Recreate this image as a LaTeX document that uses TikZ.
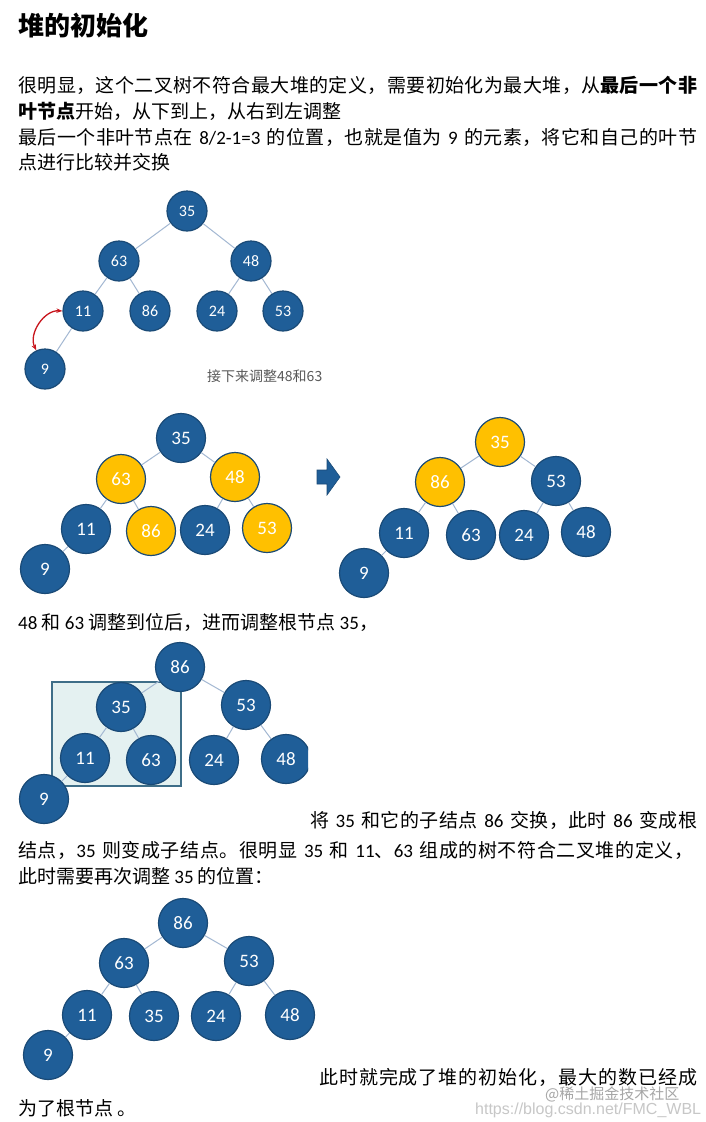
\documentclass[tikz,border=0pt]{standalone}
\usepackage{fontspec}
\setmainfont{Carlito}
\newfontfamily\cjk{Noto Sans CJK SC}
\newfontfamily\num{Carlito}
\newfontfamily\web{Liberation Sans}
\usetikzlibrary{arrows.meta}
% let Chinese characters stretch a little inside justified lines
\newcount\cjkc
\cjkc="4E00
\loop \XeTeXcharclass\cjkc=1 \advance\cjkc by 1 \ifnum\cjkc<"A000 \repeat
\XeTeXcharclass"FF0C=1 \XeTeXcharclass"3001=1 \XeTeXcharclass"3002=1 \XeTeXcharclass"FF1A=1
\XeTeXinterchartokenstate=1
\XeTeXinterchartoks 1 1 = {\hskip 0pt plus 1pt\relax}
\definecolor{heapblue}{HTML}{1F5E98}
\definecolor{heapline}{HTML}{1A4A76}
\definecolor{heapgold}{HTML}{FFC000}
\definecolor{linkblue}{HTML}{A3B8D2}
\definecolor{boxteal}{HTML}{E4F1F1}
\definecolor{boxedge}{HTML}{3E6E88}
\definecolor{swapred}{HTML}{C8161D}
\newcommand{\nm}[1]{{\num #1}}
\newcommand{\fitline}[2]{\hbox to #1pt{\spaceskip=6pt plus 1pt\relax #2}}

\begin{document}
\begin{tikzpicture}[x=1pt,y=-1pt,
  txt/.style={anchor=west,inner sep=0pt,font=\cjk\fontsize{19}{22}\selectfont},
  hn/.style={circle,draw=heapline,line width=1.2pt,fill=heapblue,text=white,
    minimum size=49pt,inner sep=0pt,font=\num\fontsize{19}{19}\selectfont},
  gn/.style={hn,fill=heapgold},
  sn/.style={hn,minimum size=40pt,font=\num\fontsize{16}{16}\selectfont},
  link/.style={draw=linkblue,line width=1pt},
  swaparr/.style={{Stealth[length=6pt]}-{Stealth[length=6pt]},draw=swapred,line width=1.3pt}
]
\fill[white] (0,0) rectangle (706,1122);

% text above the first tree
\node[txt,font=\cjk\bfseries\fontsize{26}{28}\selectfont] (title) at (18,26) {堆的初始化};
\node[txt] (l1) at (18,85) {\fitline{679}{很明显，这个二叉树不符合最大堆的定义，需要初始化为最大堆，从\textbf{最后一个非}}};
\node[txt] (l2) at (18,111) {\textbf{叶节点}开始，从下到上，从右到左调整};
\node[txt] (l3) at (18,137) {\fitline{679}{最后一个非叶节点在 \nm{8/2-1=3} 的位置，也就是值为 \nm{9} 的元素，将它和自己的叶节}};
\node[txt] (l4) at (18,162) {点进行比较并交换};

% tree 1
\foreach \v/\x/\y in {35/187/211,63/119/261,48/251/261,11/83/311,86/150/311,24/217/311,53/283/311,9/45/369}
  \node[sn] (a\v) at (\x,\y) {\v};
\foreach \p/\c in {35/63,35/48,63/11,63/86,48/24,48/53,11/9}
  \draw[link] (a\p) -- (a\c);
\draw[swaparr] (a11.west) to[bend right=60] (a9.115);
\node[txt,font=\cjk\fontsize{14}{16}\selectfont,text=black!65] (next) at (207,376) {接下来调整48和63};

% tree 2, before and after
\foreach \v/\x/\y in {35/181/438,11/86/529,24/205/530,9/45/569}
  \node[hn] (b\v) at (\x,\y) {\v};
\foreach \v/\x/\y in {63/121/479,48/235/477,86/151/531,53/267/528}
  \node[gn] (b\v) at (\x,\y) {\v};
\foreach \p/\c in {35/63,35/48,63/11,63/86,48/24,48/53,11/9}
  \draw[link] (b\p) -- (b\c);

\fill[heapblue,draw=heapline,line width=0.6pt]
  (317,470) -- (327,470) -- (327,459) -- (340,477) -- (327,495) -- (327,484) -- (317,484) -- cycle;

\foreach \v/\x/\y in {53/556/481,11/404/533,63/471/535,24/524/535,48/586/532,9/364/573}
  \node[hn] (c\v) at (\x,\y) {\v};
\foreach \v/\x/\y in {35/500/442,86/440/482}
  \node[gn] (c\v) at (\x,\y) {\v};
\foreach \p/\c in {35/86,35/53,86/11,86/63,53/24,53/48,11/9}
  \draw[link] (c\p) -- (c\c);

\node[txt] (l5) at (18,622) {\nm{48} 和 \nm{63} 调整到位后，进而调整根节点 \nm{35}，};

% tree 3
\begin{scope}
\clip (0,636) rectangle (308,830);
\filldraw[fill=boxteal,draw=boxedge,line width=1.3pt] (52,682) rectangle (181,786);
\foreach \v/\x/\y in {86/180/667,35/121/707,53/246/705,11/85/758,63/151/760,24/214/760,48/286/759,9/44/799}
  \node[hn] (d\v) at (\x,\y) {\v};
\foreach \p/\c in {86/35,86/53,35/11,35/63,53/24,53/48,11/9}
  \draw[link] (d\p) -- (d\c);
\end{scope}

\node[txt] (l6) at (310,820) {\fitline{387}{将 \nm{35} 和它的子结点 \nm{86} 交换，此时 \nm{86} 变成根}};
\node[txt] (l7) at (18,850) {\fitline{675}{结点，\nm{35} 则变成子结点。很明显 \nm{35} 和 \nm{11}、\nm{63} 组成的树不符合二叉堆的定义，}};
\node[txt] (l8) at (18,876) {此时需要再次调整 \nm{35} 的位置：};

% tree 4
\foreach \v/\x/\y in {86/183/923,63/124/963,53/249/961,11/87/1015,35/154/1016,24/216/1016,48/290/1015,9/48/1055}
  \node[hn] (e\v) at (\x,\y) {\v};
\foreach \p/\c in {86/63,86/53,63/11,63/35,53/24,53/48,11/9}
  \draw[link] (e\p) -- (e\c);

\node[txt] (l9) at (319,1077) {\fitline{378}{此时就完成了堆的初始化，最大的数已经成}};
\node[txt] (l10) at (18,1108) {为了根节点 。};

% watermark
\node[txt,font=\cjk\fontsize{15}{17}\selectfont,text=black!35] (wm1) at (545,1094) {@稀土掘金技术社区};
\node[txt,font=\web\fontsize{16}{18}\selectfont,text=black!22] (wm2) at (475,1110) {https://blog.csdn.net/FMC\_WBL};
\end{tikzpicture}
\end{document}
